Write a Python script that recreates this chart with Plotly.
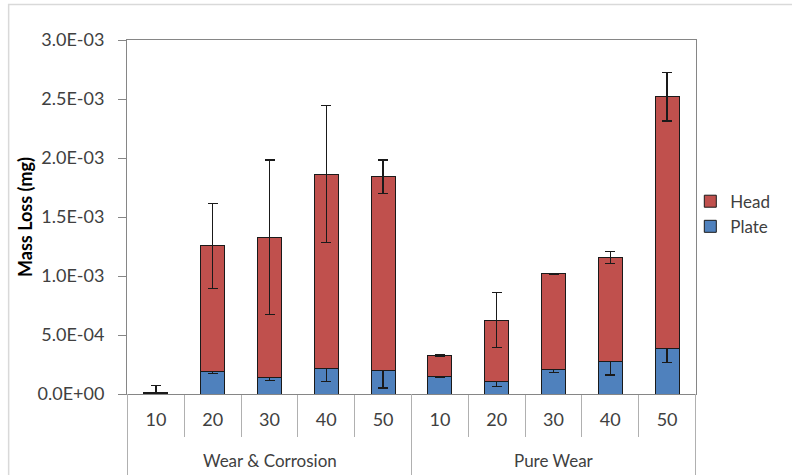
import plotly.graph_objects as go

# Test conditions: group and sliding speed
groups = ["Wear & Corrosion"] * 5 + ["Pure Wear"] * 5
speeds = ["10", "20", "30", "40", "50"] * 2
group_names = ["Wear & Corrosion", "Pure Wear"]

# Mass loss (mg) per component and standard deviation
plate = [3e-6, 1.87e-4, 1.38e-4, 2.2e-4, 2.0e-4, 1.45e-4, 1.04e-4, 2.06e-4, 2.77e-4, 3.87e-4]
plate_err = [2e-6, 1.2e-5, 2.5e-5, 1.15e-4, 1.5e-4, 5e-6, 4.3e-5, 2.5e-5, 1.15e-4, 1.2e-4]
head = [1.2e-5, 1.068e-3, 1.19e-3, 1.644e-3, 1.642e-3, 1.8e-4, 5.23e-4, 8.11e-4, 8.78e-4, 2.132e-3]
head_err = [6e-5, 3.6e-4, 6.55e-4, 5.82e-4, 1.41e-4, 8e-6, 2.35e-4, 5e-6, 5e-5, 2.05e-4]

# Y axis ticks
y_ticks = [0, 5e-4, 1e-3, 1.5e-3, 2e-3, 2.5e-3, 3e-3]
y_tick_text = ["0.0E+00", "5.0E-04", "1.0E-03", "1.5E-03", "2.0E-03", "2.5E-03", "3.0E-03"]

FONT = "Lato"
TEXT = "#404040"
GRID = "#b0b0b0"
BAR_LINE = dict(color="#1a1a1a", width=1)
ERR = dict(type="data", visible=True, color="#1a1a1a", thickness=1.3, width=5)

# one unique category per bar, labelled with the speed only
keys = [f"{g} {s}" for g, s in zip(groups, speeds)]

fig = go.Figure()
fig.add_trace(go.Bar(
    name="Plate", x=keys, y=plate,
    marker=dict(color="#4F81BD", line=BAR_LINE),
    error_y=dict(array=plate_err, **ERR),
))
fig.add_trace(go.Bar(
    name="Head", x=keys, y=head,
    marker=dict(color="#C0504D", line=BAR_LINE),
    error_y=dict(array=head_err, **ERR),
))

# group labels under the speed labels, with dividers between groups
n_per_group = 5
annotations = []
shapes = [dict(type="rect", xref="paper", yref="paper",
               x0=-0.208, x1=1.2, y0=-0.3, y1=1.1,
               line=dict(color="#d9d9d9", width=1.5), layer="below")]
for gi, name in enumerate(group_names):
    annotations.append(dict(
        text=name, xref="x", yref="paper",
        x=gi * n_per_group + (n_per_group - 1) / 2, y=-0.189,
        xanchor="center", yanchor="middle", showarrow=False,
        font=dict(family=FONT, size=17, color=TEXT),
    ))
for b in range(len(group_names) + 1):
    xb = b * n_per_group - 0.5
    shapes.append(dict(type="line", xref="x", yref="paper",
                       x0=xb, x1=xb, y0=0, y1=-0.25,
                       line=dict(color=GRID, width=1)))

fig.update_layout(
    width=792, height=475,
    barmode="stack", bargap=0.58,
    paper_bgcolor="white", plot_bgcolor="white",
    font=dict(family=FONT, size=17, color=TEXT),
    margin=dict(l=127, r=96, t=40, b=81),
    showlegend=True,
    legend=dict(x=0.99, y=0.508, xanchor="left", yanchor="middle",
                traceorder="reversed", font=dict(size=17, color=TEXT),
                bgcolor="rgba(0,0,0,0)"),
    annotations=annotations,
    shapes=shapes,
)
fig.update_yaxes(
    range=[0, 3e-3], tickvals=y_ticks, ticktext=y_tick_text,
    showgrid=False, zeroline=False,
    showline=True, linecolor="#868686", linewidth=1, mirror=True,
    ticks="outside", ticklen=8, tickcolor="#868686", ticklabelstandoff=10,
    tickfont=dict(size=18),
    title=dict(text="<b>Mass Loss (mg)</b>", font=dict(size=18, color="#000000"), standoff=0),
)
fig.update_xaxes(
    type="category", tickvals=keys, ticktext=speeds,
    showgrid=False, zeroline=False,
    showline=True, linecolor="#868686", linewidth=1, mirror=True,
    ticks="outside", tickson="boundaries", ticklen=42, tickcolor=GRID,
    ticklabelstandoff=9,
    tickfont=dict(size=18),
)

fig.write_html("out.html")
